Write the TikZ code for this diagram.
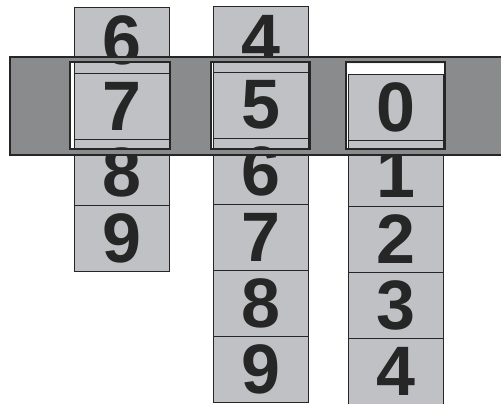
\documentclass[tikz,border=0pt]{standalone}
\usepackage{fontspec}
\newfontfamily\digitfont{Liberation Sans}
\definecolor{cellgray}{HTML}{C0C1C4}
\definecolor{bandgray}{HTML}{8A8B8D}
\definecolor{inkgray}{HTML}{262626}

\begin{document}
\begin{tikzpicture}[x=0.5pt,y=-0.5pt,
  cell/.style={draw=inkgray,line width=0.5pt,fill=cellgray,minimum width=47.5pt,minimum height=33pt,inner sep=0pt,text=inkgray,font=\digitfont\bfseries\fontsize{35}{35}\selectfont},
  frame/.style={draw=inkgray,line width=0.6pt}]
\useasboundingbox (0,0) rectangle (501,403);
\clip (0,0) rectangle (501,403);
% reels
\foreach \d [count=\i from 0] in {6,7,8,9}
  \node[cell] (a\d) at (121.5,40+66*\i) {\d};
\foreach \d [count=\i from 0] in {4,5,6,7,8,9}
  \node[cell] (b\d) at (260.5,39+66*\i) {\d};
\foreach \d [count=\i from 0] in {0,1,2,3,4}
  \node[cell] (c\d) at (395.5,107+66*\i) {\d};
% cover band with three windows
\fill[bandgray,even odd rule] (10,57) rectangle (505,155)
  (70,62) rectangle (170,149) (211,62) rectangle (310,149) (346,63) rectangle (445,149);
\draw[frame] (10,57) rectangle (505,155);
\foreach \l/\r in {70/170,211/310,346/445}
  \draw[frame] (\l,62) rectangle (\r,149);
\end{tikzpicture}
\end{document}
